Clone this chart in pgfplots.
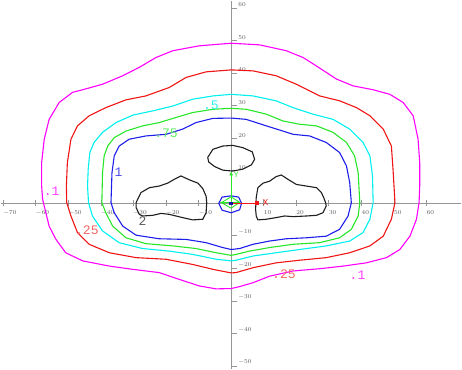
\documentclass[border=0pt]{standalone}
\usepackage{pgfplots}
\pgfplotsset{compat=1.18}
\usepackage{fontspec}
\setmainfont{Liberation Sans}
\newfontfamily\labfont{Liberation Mono}
\usetikzlibrary{arrows.meta}
\definecolor{cmag}{RGB}{255,0,255}
\definecolor{cred}{RGB}{240,20,20}
\definecolor{ccyan}{RGB}{0,240,240}
\definecolor{cgreen}{RGB}{40,230,40}
\definecolor{cblue}{RGB}{30,30,235}
\definecolor{cblack}{RGB}{30,30,30}
\definecolor{axgray}{RGB}{150,150,150}
\definecolor{tickgray}{RGB}{90,90,90}

\begin{document}
\begin{tikzpicture}
\begin{axis}[
  scale only axis,
  width=460pt, height=368pt,
  xmin=-70.8, xmax=70.7,
  ymin=-51, ymax=62.3,
  axis lines=middle,
  axis line style={axgray, line width=1.2pt, -},
  xtick={-70,-60,-50,-40,-30,-20,-10,10,20,30,40,50,60},
  ytick={-50,-40,-30,-20,-10,10,20,30,40,50,60},
  tick style={axgray, line width=0.8pt},
  major tick length=6pt,
  xtick align=center,
  ytick align=inside,
  tick label style={font=\labfont\fontsize{5.6}{6.5}\selectfont, text=tickgray},
  xticklabel style={anchor=north west, inner sep=0pt, yshift=-4pt},
  yticklabel style={anchor=south west, inner sep=0pt, xshift=7pt, yshift=1pt},
  clip=false,
  every axis plot/.append style={line width=1.1pt},
]
% .1
\addplot[cmag] coordinates {
 (0,49.2) (8.7,48.7) (16.9,46.9) (22.1,44.8) (26.2,42.2) (32.3,38.2) (37.4,36.1)
 (43.6,34.9) (48.7,33.5) (52.8,31.0) (55.9,26.9) (57.4,19.7) (57.9,12.5) (57.9,5.3)
 (57.7,0.2) (56.9,-4.9) (54.9,-10.1) (51.8,-14.2) (47.7,-16.7) (41.5,-18.3) (34.4,-19.3)
 (27.2,-20.1) (19.0,-20.8) (11.8,-22.4) (6.7,-24.4) (2.6,-25.6) (0,-26.2) (-4.6,-26.3)
 (-9.8,-25.4) (-15.9,-23.4) (-22.1,-21.3) (-30.2,-20.3) (-37.4,-19.3) (-45.6,-17.7)
 (-50.8,-15.2) (-53.8,-11.1) (-55.9,-7.0) (-56.9,-2.9) (-57.9,1.2) (-58.2,5.3)
 (-58.2,12.5) (-57.4,19.7) (-55.9,25.8) (-52.8,31.0) (-48.7,34.1) (-45.6,34.9)
 (-39.5,36.6) (-33.3,39.2) (-28.2,41.8) (-23.1,44.8) (-17.9,46.9) (-9.8,48.4) (0,49.2)
};
% .25
\addplot[cred] coordinates {
 (0,41.0) (6.7,40.7) (13.8,39.2) (20.0,36.6) (27.2,33.0) (33.3,31.5) (38.5,29.4)
 (42.6,26.9) (46.7,22.8) (49.2,17.6) (49.7,10.5) (50.3,0.2) (49.2,-4.9) (46.7,-10.1)
 (42.6,-13.1) (36.4,-15.2) (29.2,-16.7) (21.0,-17.5) (13.8,-18.3) (6.7,-19.8) (1.5,-21.3)
 (0,-21.4) (-5.6,-20.3) (-11.8,-18.8) (-20.0,-17.2) (-29.2,-16.7) (-37.4,-15.2)
 (-43.6,-12.6) (-47.2,-9.0) (-49.2,-3.9) (-50.5,0.2) (-50.6,5.3) (-50.3,12.5)
 (-49.2,19.7) (-47.2,23.8) (-43.6,26.9) (-38.5,29.4) (-32.3,31.8) (-26.2,33.0)
 (-19.0,35.6) (-13.8,38.7) (-7.7,40.4) (0,41.0)
};
% .5
\addplot[ccyan] coordinates {
 (0,33.5) (6.7,33.0) (13.8,31.5) (19.0,29.4) (25.1,27.4) (31.3,25.8) (36.4,22.8)
 (40.5,18.7) (42.6,14.6) (43.4,8.4) (43.6,0.2) (42.6,-4.9) (40.5,-9.0) (36.4,-11.6)
 (29.2,-13.1) (21.0,-14.2) (13.8,-15.2) (6.7,-16.2) (1.5,-17.5) (0,-17.7) (-4.6,-17.2)
 (-11.8,-15.7) (-19.0,-14.7) (-27.2,-13.9) (-34.4,-12.1) (-39.5,-8.5) (-42.6,-3.9)
 (-43.8,0.2) (-44.1,5.3) (-43.9,10.5) (-43.4,15.6) (-42.1,18.7) (-39.5,21.8)
 (-35.4,24.8) (-30.2,27.1) (-24.1,28.4) (-17.9,29.9) (-11.8,32.0) (-5.6,33.0) (0,33.5)
};
% .75
\addplot[cgreen] coordinates {
 (0,29.2) (4.6,28.9) (10.8,27.4) (15.9,25.3) (21.0,24.3) (26.2,23.8) (31.3,21.8)
 (35.4,18.7) (37.9,14.6) (39.0,9.4) (39.5,0.2) (39.0,-3.9) (36.9,-8.0) (33.3,-10.6)
 (27.2,-12.1) (19.0,-12.6) (11.8,-13.6) (5.6,-14.7) (1.5,-15.7) (0,-16.0) (-4.6,-15.2)
 (-10.8,-13.9) (-17.9,-13.1) (-26.2,-12.4) (-32.3,-10.6) (-36.4,-7.0) (-38.5,-2.9)
 (-39.7,0.2) (-39.5,9.4) (-39.0,14.6) (-37.9,17.6) (-35.9,20.2) (-32.3,22.2)
 (-27.2,23.8) (-22.1,24.8) (-16.9,26.4) (-11.8,27.9) (-5.6,28.9) (0,29.2)
};
% 1
\addplot[cblue] coordinates {
 (0,26.2) (4.6,25.8) (10.8,23.8) (15.9,22.2) (19.0,21.2) (24.1,20.7) (29.2,18.7)
 (33.3,15.6) (35.4,11.5) (36.4,6.4) (36.9,0.2) (35.9,-3.9) (33.3,-8.0) (29.2,-10.1)
 (23.1,-10.6) (16.9,-10.9) (11.8,-11.6) (6.7,-12.6) (2.6,-13.9) (0,-14.2) (-2.6,-13.6)
 (-7.7,-12.1) (-13.8,-11.1) (-22.1,-10.9) (-29.2,-9.8) (-33.3,-7.0) (-35.9,-2.9)
 (-36.9,0.2) (-36.6,9.4) (-35.9,14.6) (-34.4,17.6) (-31.3,19.7) (-26.2,20.7)
 (-20.0,21.2) (-14.9,22.8) (-10.8,24.8) (-5.6,26.1) (0,26.2)
};
% 2 (three islands)
\addplot[cblack] coordinates {
 (-7.2,14.1) (-5.6,16.6) (-2.6,17.6) (0.5,17.8) (3.6,17.1) (6.5,15.8) (7.2,13.5)
 (6.2,11.8) (3.6,10.5) (0.5,9.9) (-2.6,10.2) (-5.1,11.3) (-6.9,12.7) (-7.2,14.1)
};
\addplot[cblack] coordinates {
 (-29.2,0.2) (-27.7,3.3) (-25.1,4.8) (-22.1,5.3) (-19.5,6.2) (-17.4,7.4) (-15.4,8.4)
 (-12.8,7.2) (-10.2,6.2) (-8.7,4.5) (-7.7,2.2) (-7.5,0.2) (-7.7,-2.9) (-8.7,-4.9)
 (-11.8,-5.1) (-14.9,-4.4) (-19.0,-3.4) (-21.5,-3.1) (-24.1,-3.7) (-27.2,-3.9)
 (-28.2,-3.4) (-29.2,-1.3) (-29.2,0.2)
};
\addplot[cblack] coordinates {
 (7.7,1.8) (8.2,4.8) (9.8,6.2) (11.8,6.8) (13.8,8.2) (15.4,8.7) (17.4,7.4) (20.0,5.8)
 (23.1,5.3) (26.2,4.8) (27.7,3.3) (28.4,1.8) (29.0,0.2) (29.2,-0.8) (28.2,-2.9)
 (26.2,-3.7) (23.1,-3.9) (19.0,-4.1) (16.4,-3.9) (13.8,-4.4) (10.8,-4.9) (8.2,-5.1)
 (7.7,-3.9) (7.5,-1.8) (7.7,1.8)
};
% centre
\addplot[cblue] coordinates {
 (0,2.3) (2.3,1.9) (3.2,0) (2.6,-2.0) (0,-2.9) (-2.8,-2.1) (-3.8,0) (-2.8,1.9) (0,2.3)
};
\addplot[cgreen, line width=0.9pt] coordinates {
 (-3,0.2) (0,2) (2.6,0.3) (0,-1.5) (-3,0.2) (2.6,0.3)
};
\addplot[cred, line width=0.9pt] coordinates {(0,0) (8,0)};
\addplot[cred, only marks, mark=square*, mark size=1.4pt] coordinates {(8,0)};
\addplot[cgreen, line width=0.9pt, -{Latex[length=4pt,width=4pt]}] coordinates {(0,0) (0,9.8)};
\addplot[cblue!70!black, only marks, mark=square*, mark size=1.2pt] coordinates {(0,0)};
% labels
\node[text=cred, font=\labfont\fontsize{9}{10}\selectfont] at (axis cs:10.6,0.3) {X};
\node[text=cgreen, font=\labfont\fontsize{8}{9}\selectfont, inner sep=0pt] at (axis cs:1.6,8.6) {Y};
\begin{scope}[every node/.style={font=\labfont\fontsize{13}{14}\selectfont, inner sep=0pt}]
\node[text=cmag!75] at (axis cs:-55.1,3.7) {.1};
\node[text=cmag!75] at (axis cs:38.8,-22.2) {.1};
\node[text=cred!65] at (axis cs:-44.3,-8.3) {.25};
\node[text=cred!65] at (axis cs:16.2,-21.8) {.25};
\node[text=ccyan!85!white] at (axis cs:-6.2,30.2) {.5};
\node[text=cgreen!75] at (axis cs:-20,21.5) {.75};
\node[text=cblue!80] at (axis cs:-34.6,9.5) {1};
\node[text=black!65] at (axis cs:-27.2,-5.6) {2};
\end{scope}
\end{axis}
\end{tikzpicture}
\end{document}
